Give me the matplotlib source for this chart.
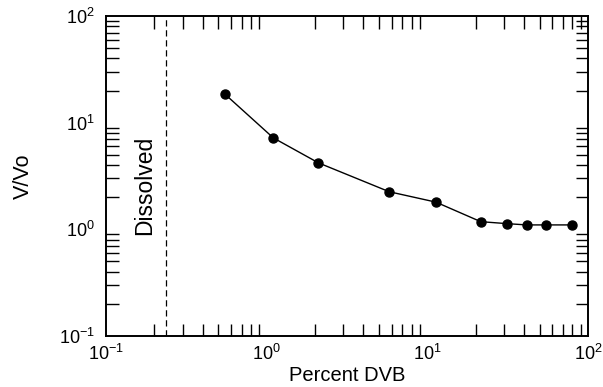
import matplotlib
matplotlib.use("Agg")
import matplotlib.pyplot as plt
from matplotlib.ticker import LogLocator, NullFormatter

plt.rcParams['font.family'] = ['Liberation Sans', 'DejaVu Sans']
plt.rcParams['mathtext.fontset'] = 'custom'
plt.rcParams['mathtext.rm'] = 'Liberation Sans'

# percent divinylbenzene vs swelling ratio
dvb = [0.55, 1.1, 2.1, 5.8, 11.3, 21.5, 31.5, 41.5, 54.5, 80.0]
ratio = [18.5, 7.2, 4.2, 2.25, 1.8, 1.18, 1.13, 1.1, 1.1, 1.1]
dissolved_limit = 0.235

fig = plt.figure(figsize=(6.03, 3.87), dpi=100)
ax = fig.add_axes([106/603, 1-336/387, (588-106)/603, (336-16)/387])

ax.plot(dvb, ratio, "k-", lw=1.0, marker="o", ms=6.5)
ax.axvline(dissolved_limit, color="k", ls=(0, (5, 3)), lw=0.9)
ax.text(0.175, 2.6, "Dissolved", rotation=90, ha="center", va="center", fontsize=16.5)

ax.set_xscale("log")
ax.set_yscale("log")
ax.set_xlim(0.1, 100)
ax.set_ylim(0.1, 100)

for a in (ax.xaxis, ax.yaxis):
    a.set_major_locator(LogLocator(base=10, numticks=10))
    a.set_minor_locator(LogLocator(base=10, subs=range(2, 10), numticks=10))
    a.set_minor_formatter(NullFormatter())

ax.tick_params(which="both", direction="in", top=True, right=True, width=1.0, labelsize=13)
ax.tick_params(axis="x", pad=6)
ax.tick_params(axis="y", pad=8)
ax.tick_params(which="major", length=0)
ax.tick_params(which="minor", length=9)

for s in ax.spines.values():
    s.set_linewidth(1.4)

ax.set_xlabel("Percent DVB", fontsize=14.5, labelpad=1)
ax.set_ylabel("V/Vo", fontsize=15.5, labelpad=18)

fig.savefig("out.png", dpi=100)
